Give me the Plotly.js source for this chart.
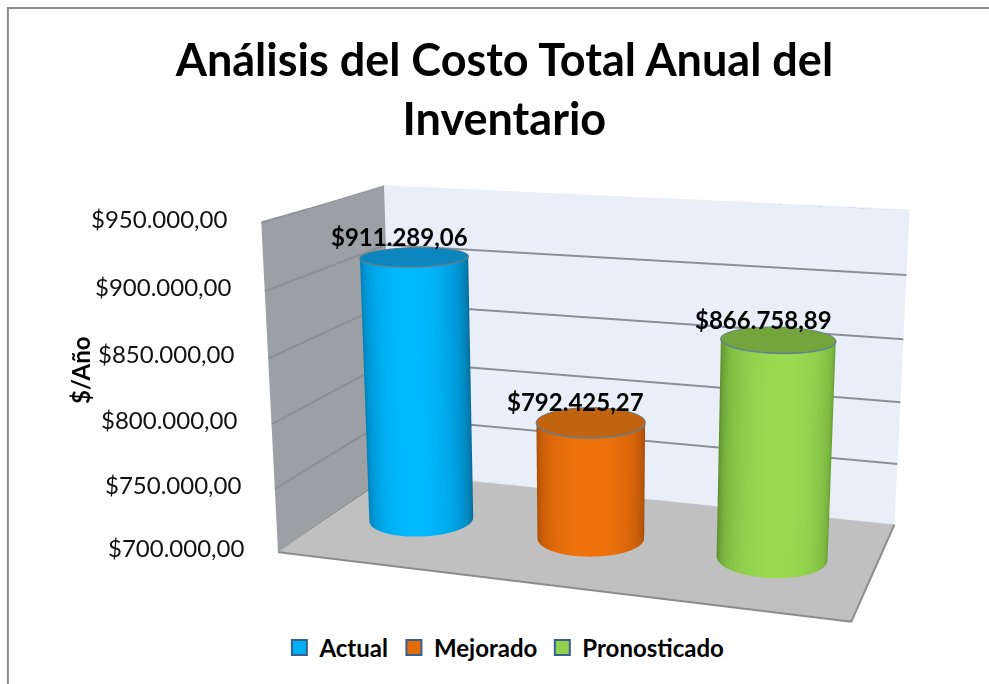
<!DOCTYPE html>
<html><head><meta charset="utf-8">
<script src="https://cdn.plot.ly/plotly-3.0.0.min.js"></script>
<style>html,body{margin:0;padding:0;background:#fff;overflow:hidden;width:989px;height:684px}#c{position:absolute;left:0;top:-303px;width:989px;height:1368px}</style>
</head><body><div id="c"></div>
<script>
const categories = ["Actual","Mejorado","Pronosticado"];
const values = [911289.06,792425.27,866758.89];
const valueLabels = ["$911.289,06","$792.425,27","$866.758,89"];
const tickVals = [700000,750000,800000,850000,900000,950000];
const tickLabels = ["$700.000,00","$750.000,00","$800.000,00","$850.000,00","$900.000,00","$950.000,00"];
const sideScales = [
 [[0,"#0a6a96"],[0.5,"#0093d0"],[1,"#00b9ff"]],
 [[0,"#9a4808"],[0.5,"#cc5f08"],[1,"#f0720c"]],
 [[0,"#5a8a2e"],[0.5,"#7ebb42"],[1,"#9adb52"]]
];
const capColors = ["#0a85bd","#c26310","#74a53c"];
const legendColors = ["#00b0f0","#e36c0a","#92d050"];
const FONT = "Lato, 'Noto Sans', sans-serif";
const zMin=700000, zMax=950000, rx=0.285, ry=0.202, cy=0.5;
const view = 0.30;
const cxOf = i => 0.5+i*0.985;
const py = p => 1-(p+303)/1368; // window pixel row to paper fraction of the tall plot
const traces=[];
const n=categories.length;
// gridlines and frame edges
const gx=[],gy=[],gz=[];
tickVals.slice(1).forEach(t=>{gx.push(0,0,n,null);gy.push(0,1,1,null);gz.push(t,t,t,null);});
traces.push({type:"scatter3d",mode:"lines",showlegend:false,hoverinfo:"skip",line:{color:"#8a8f96",width:4},x:gx,y:gy,z:gz});
traces.push({type:"scatter3d",mode:"lines",showlegend:false,hoverinfo:"skip",line:{color:"#8c8c8c",width:4},
  x:[0,n,n,0,0],y:[0,0,1,1,0],z:[zMin,zMin,zMin,zMin,zMin]});
values.forEach((v,i)=>{
  const cx=cxOf(i), X=[],Y=[],Z=[],C=[],X2=[],Y2=[],Z2=[],C2=[],LX=[],LY=[],LZ=[];
  [zMin,v].forEach(z=>{
    const rowx=[],rowy=[],rowz=[],rowc=[];
    for(let a=0;a<=72;a++){const t=a/72*2*Math.PI;
      rowx.push(cx+rx*Math.cos(t));rowy.push(cy+ry*Math.sin(t));rowz.push(z);
      rowc.push(Math.max(0,-Math.sin(t)*Math.cos(view)+Math.cos(t)*Math.sin(view)));}
    X.push(rowx);Y.push(rowy);Z.push(rowz);C.push(rowc);
  });
  [0,1].forEach(k=>{
    const rowx=[],rowy=[],rowz=[],rowc=[];
    for(let a=0;a<=72;a++){const t=a/72*2*Math.PI;
      rowx.push(cx+k*rx*Math.cos(t));rowy.push(cy+k*ry*Math.sin(t));rowz.push(v);rowc.push(0);
      if(k){LX.push(cx+rx*Math.cos(t));LY.push(cy+ry*Math.sin(t));LZ.push(v);}}
    X2.push(rowx);Y2.push(rowy);Z2.push(rowz);C2.push(rowc);
  });
  const flat={ambient:1,diffuse:0,specular:0,roughness:1,fresnel:0};
  traces.push({type:"surface",x:X,y:Y,z:Z,surfacecolor:C,cmin:0,cmax:1,colorscale:sideScales[i],showscale:false,hoverinfo:"skip",lighting:flat});
  traces.push({type:"surface",x:X2,y:Y2,z:Z2,surfacecolor:C2,cmin:0,cmax:1,colorscale:[[0,capColors[i]],[1,capColors[i]]],showscale:false,hoverinfo:"skip",lighting:flat});
  traces.push({type:"scatter3d",mode:"lines",x:LX,y:LY,z:LZ,line:{color:"#5f7f8f",width:3},showlegend:false,hoverinfo:"skip"});
});
categories.forEach((n,i)=>traces.push({type:"scatter3d",mode:"markers",name:n,x:[null],y:[null],z:[null],
  marker:{symbol:"square",size:15,color:legendColors[i],line:{color:"#376092",width:2}},hoverinfo:"skip"}));
const ann=[];
tickVals.forEach((t,i)=>ann.push({x:0,y:0,z:t,text:tickLabels[i],showarrow:false,xanchor:"right",yanchor:"middle",xshift:-32,yshift:4.5,font:{family:FONT,size:24,color:"#111"}}));
values.forEach((v,i)=>ann.push({x:cxOf(i),y:cy,z:v,text:"<b>"+valueLabels[i]+"</b>",showarrow:false,xanchor:"center",yanchor:"bottom",xshift:-15,yshift:4,font:{family:FONT,size:24,color:"#000"}}));
const hide={showgrid:false,showticklabels:false,zeroline:false,showline:false,showspikes:false,ticks:"",title:{text:""}};
const layout={
  width:989,height:1368,paper_bgcolor:"#fff",margin:{l:0,r:0,t:0,b:0},
  title:{text:"<b>Análisis del Costo Total Anual del<br>Inventario</b>",x:0.51,xanchor:"center",y:py(76),yanchor:"top",font:{family:FONT,size:45,color:"#000"}},
  scene:{
    domain:{x:[0.2,1],y:[0,1]},
    aspectmode:"manual",aspectratio:{x:1.47,y:0.7,z:0.85},
    camera:{eye:{x:1.263,y:-3.886,z:1.057},center:{x:0,y:0,z:0},up:{x:0,y:0,z:1},projection:{type:"perspective"}},
    xaxis:Object.assign({},hide,{range:[0,n],showbackground:true,backgroundcolor:"#9c9fa3"}),
    yaxis:Object.assign({},hide,{range:[0,1],showbackground:true,backgroundcolor:"#e9eef8"}),
    zaxis:Object.assign({},hide,{range:[zMin,zMax],tickvals:tickVals,showbackground:true,backgroundcolor:"#c0c0c0"}),
    annotations:ann
  },
  legend:{orientation:"h",x:0.51,xanchor:"center",y:py(648),yanchor:"middle",font:{family:FONT,size:24,color:"#000",weight:700}},
  annotations:[{xref:"paper",yref:"paper",x:0.081,xanchor:"center",y:py(370),yanchor:"middle",text:"<b>$/Año</b>",textangle:-90,showarrow:false,font:{family:FONT,size:24,color:"#000"}}],
  shapes:[{type:"rect",xref:"paper",yref:"paper",x0:0.008,x1:1.1,y0:py(720),y1:py(8),line:{color:"#8c8c8c",width:2}}]
};
Plotly.newPlot("c",traces,layout,{displayModeBar:false});
</script></body></html>
